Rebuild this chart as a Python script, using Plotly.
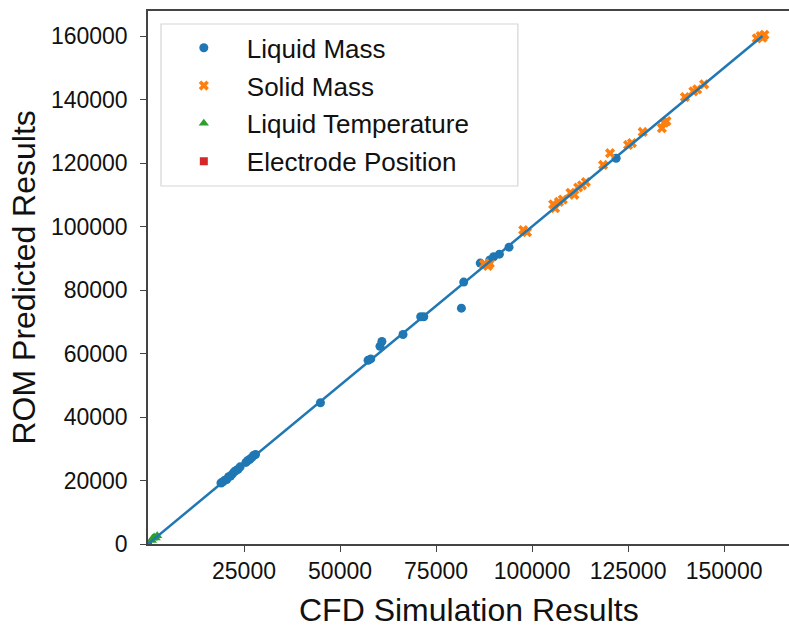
import plotly.graph_objects as go

# Liquid Mass (CFD, ROM)
liq_mass_cfd = [19000, 19500, 20000, 20500, 21000, 21500, 22000, 22500, 23000, 23500, 24000,
                25500, 26000, 26500, 27000, 27500, 28000,
                44900, 57300, 58000, 60400, 60900, 66400, 71000, 71800, 81600, 82200,
                86500, 89000, 90000, 91500, 94000, 121900]
liq_mass_rom = [19200, 19600, 20100, 20300, 21200, 21400, 22100, 22800, 23200, 23600, 24300,
                25700, 26300, 26700, 27200, 27900, 28200,
                44500, 57900, 58300, 62300, 63800, 66000, 71600, 71600, 74300, 82500,
                88500, 89500, 90500, 91300, 93500, 121500]

# Solid Mass
sol_mass_cfd = [87500, 88500, 89000, 97700, 98700, 105500, 106000, 107000, 108000,
                110000, 111000, 112000, 113000, 114000, 118500, 120300,
                125000, 126000, 128800, 133800, 134400, 135000,
                139800, 142000, 143000, 144800, 158500, 159500, 160000, 160500]
sol_mass_rom = [88200, 87600, 88400, 98900, 98200, 107000, 105800, 107800, 108500,
                110600, 110000, 112300, 113000, 114000, 119400, 123100,
                125700, 126300, 129800, 131000, 132700, 133200,
                140800, 142600, 143200, 144800, 159300, 160000, 159500, 160400]

# Liquid Temperature
liq_temp_cfd = [1000, 1200, 1600, 2000, 2400]
liq_temp_rom = [1100, 1800, 2200, 1900, 2600]

# Electrode Position
elec_cfd = [0.4, 0.8, 1.2]
elec_rom = [0.5, 0.7, 1.1]

# Reference line y = x
ref_line = [0, 160000]

x_ticks = [25000, 50000, 75000, 100000, 125000, 150000]
x_tick_labels = ["25000", "50000", "75000", "100000", "125000", "150000"]
y_ticks = [0, 20000, 40000, 60000, 80000, 100000, 120000, 140000, 160000]
y_tick_labels = ["0", "20000", "40000", "60000", "80000", "100000", "120000", "140000", "160000"]

x_title = "CFD Simulation Results"
y_title = "ROM Predicted Results"

FONT = "Liberation Sans, Arial, sans-serif"

fig = go.Figure()
fig.add_trace(go.Scatter(x=liq_mass_cfd, y=liq_mass_rom, mode="markers", name="Liquid Mass",
                         legendgroup="a", legendrank=1,
                         marker=dict(color="#1f77b4", size=9, symbol="circle")))
fig.add_trace(go.Scatter(x=sol_mass_cfd, y=sol_mass_rom, mode="markers", name="Solid Mass",
                         legendgroup="b", legendrank=2,
                         marker=dict(color="#ff7f0e", size=9, symbol="x")))
fig.add_trace(go.Scatter(x=elec_cfd, y=elec_rom, mode="markers", name="Electrode Position",
                         legendgroup="d", legendrank=4,
                         marker=dict(color="#d62728", size=8, symbol="square")))
fig.add_trace(go.Scatter(x=liq_temp_cfd, y=liq_temp_rom, mode="markers", name="Liquid Temperature",
                         legendgroup="c", legendrank=3,
                         marker=dict(color="#2ca02c", size=9, symbol="triangle-up")))
fig.add_trace(go.Scatter(x=ref_line, y=ref_line, mode="lines", showlegend=False,
                         line=dict(color="#1f77b4", width=2.5)))

# legend frame (wider than the auto-sized plotly legend box)
fig.add_shape(type="rect", xref="paper", yref="paper",
              x0=0.0203, x1=0.577, y0=0.6717, y1=0.9756,
              line=dict(color="#d5d5d5", width=1.2), fillcolor="white", layer="above")

# axis titles
fig.add_annotation(text=x_title, xref="paper", yref="paper", x=0.5, y=-0.1229,
                   xanchor="center", yanchor="middle", showarrow=False,
                   font=dict(size=32, family=FONT, color="#111"))
fig.add_annotation(text=y_title, xref="paper", yref="paper", x=-0.195, y=0.5,
                   xanchor="center", yanchor="middle", showarrow=False, textangle=-90,
                   font=dict(size=32, family=FONT, color="#111"))

fig.update_layout(
    width=789, height=627,
    margin=dict(l=148, r=0, t=11, b=83),
    plot_bgcolor="white", paper_bgcolor="white",
    font=dict(family=FONT, color="#111"),
    legend=dict(x=0.02, y=0.975, xanchor="left", yanchor="top",
                bgcolor="rgba(0,0,0,0)", borderwidth=0,
                font=dict(size=26, family=FONT), itemwidth=76, tracegroupgap=1),
    xaxis=dict(range=[0, 166900], tickvals=x_ticks, ticktext=x_tick_labels,
               ticks="outside", ticklen=6, automargin=False,
               showgrid=False, zeroline=False, showline=True, linecolor="#444", linewidth=1.5,
               mirror=True, tickcolor="#444", tickfont=dict(size=23)),
    yaxis=dict(range=[0, 167900], tickvals=y_ticks, ticktext=y_tick_labels,
               ticks="outside", ticklen=6, ticklabelstandoff=8, automargin=False,
               showgrid=False, zeroline=False, showline=True, linecolor="#444", linewidth=1.5,
               tickcolor="#444", tickfont=dict(size=23)),
)

fig.write_html("out.html")
